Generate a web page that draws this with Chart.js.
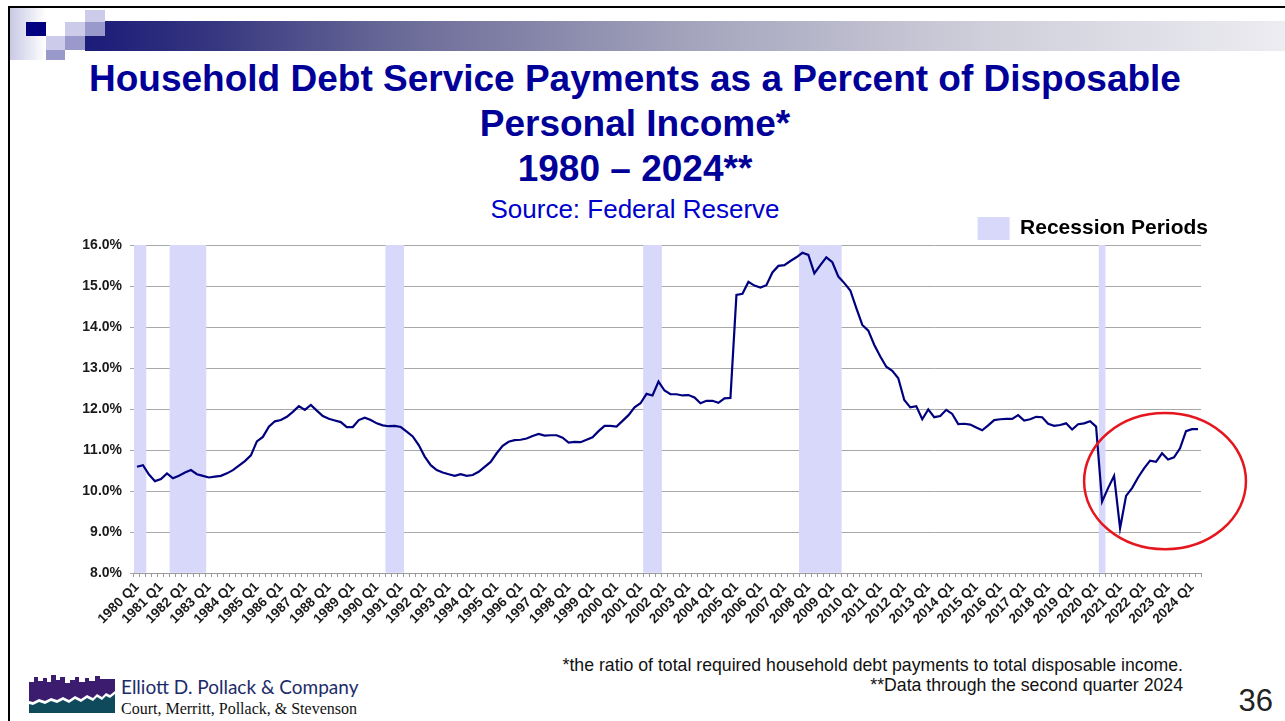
<!DOCTYPE html>
<html>
<head>
<meta charset="utf-8">
<title>Household Debt Service Payments</title>
<script src="https://cdn.jsdelivr.net/npm/chart.js@4.4.1/dist/chart.umd.min.js"></script>
<style>
  html, body { margin: 0; padding: 0; background: #fff; }
  body { width: 1285px; height: 721px; position: relative; overflow: hidden;
         font-family: "Liberation Sans", Arial, sans-serif; }
  .frame-top  { position: absolute; left: 8px; top: 6px; width: 1277px; height: 2px; background: #000; }
  .frame-left { position: absolute; left: 8px; top: 6px; width: 2px; height: 715px; background: #000; }
  .fade { position: absolute; left: 10px; top: 8px; width: 36px; height: 52px;
          background: linear-gradient(90deg, #c9c9e5, #ffffff); }
  .band { position: absolute; left: 85px; top: 21px; width: 1200px; height: 30px;
          background: linear-gradient(90deg, #1b1b79 0%, #34347f 10%, #6a6a98 26%, #a3a3bc 50%, #cfcfdb 75%, #ececf1 100%); }
  .sq { position: absolute; }
  .title { position: absolute; left: 0; width: 1270px; top: 56px; text-align: center;
           font-weight: bold; font-size: 37px; line-height: 45px; color: #000099; }
  .source { position: absolute; left: 0; width: 1270px; top: 196px; text-align: center;
            font-size: 26px; line-height: 26px; color: #0000cc; }
  .notes { position: absolute; right: 102px; top: 655px; text-align: right;
           font-size: 17.7px; line-height: 20px; color: #111; }
  .page { position: absolute; right: 12px; top: 683px; font-size: 31px; line-height: 36px; color: #222; }
  .logo { position: absolute; left: 29px; top: 675px; }
  .firm { position: absolute; left: 121px; top: 676px; font-family: Lato, "Open Sans", sans-serif;
          font-size: 19px; line-height: 22px; color: #1d2b6b; white-space: nowrap; }
  .partners { position: absolute; left: 121px; top: 700px; font-family: "Liberation Serif", "Times New Roman", serif;
              font-size: 16px; line-height: 18px; color: #111; white-space: nowrap; }
  #chart { position: absolute; left: 0; top: 214px; }
</style>
</head>
<body>
<div class="frame-top"></div>
<div class="frame-left"></div>
<div class="fade"></div>
<div class="band"></div>
<div class="sq" style="left:26px;top:22px;width:20px;height:14px;background:#000080"></div>
<div class="sq" style="left:65px;top:22px;width:20px;height:14px;background:#ccccea"></div>
<div class="sq" style="left:85px;top:10px;width:20px;height:12px;background:#ccccea"></div>
<div class="sq" style="left:85px;top:22px;width:20px;height:14px;background:#9999cc"></div>
<div class="sq" style="left:46px;top:36px;width:19px;height:14px;background:#ccccea"></div>
<div class="sq" style="left:65px;top:36px;width:20px;height:14px;background:#9999cc"></div>
<div class="sq" style="left:46px;top:50px;width:19px;height:10px;background:#9999cc"></div>

<div class="title">Household Debt Service Payments as a Percent of Disposable<br>Personal Income*<br>1980 – 2024**</div>
<div class="source">Source: Federal Reserve</div>

<canvas id="chart" width="1285" height="429"></canvas>

<div class="notes">*the ratio of total required household debt payments to total disposable income.<br>**Data through the second quarter 2024</div>
<div class="page">36</div>

<svg class="logo" width="88" height="40" viewBox="0 0 88 40">
  <polygon fill="#3b1c6e" points="0,7 5,7 5,2 9,2 9,6 14,6 14,3 18,3 18,7 22,7 22,0 27,0 27,5 31,5 31,2 36,2 36,8 41,8 41,5 46,5 46,2 50,2 50,7 56,7 56,3 60,3 60,6 66,6 66,1 71,1 71,4 86,4 86,16 81,20 77,18 73,22 68,19 64,23 58,20 52,24 46,21 40,25 34,22 28,25 22,23 16,26 10,24 4,27 0,26"/>
  <polygon fill="#0f4a5c" points="0,29 4,30 10,27 16,29 22,26 28,28 34,25 40,28 46,24 52,27 58,23 64,26 68,22 73,25 77,21 81,23 86,19 86,38 0,38"/>
</svg>
<div class="firm">Elliott D. Pollack &amp; Company</div>
<div class="partners">Court, Merritt, Pollack, &amp; Stevenson</div>

<script>
// Quarterly categories, 1980 Q1 through 2024 Q2
const firstYear = 1980;
const lastYear = 2024;
const lastQuarterOfFinalYear = 2;
const quarterNames = ['Q1', 'Q2', 'Q3', 'Q4'];
const quarters = [];
for (let y = firstYear; y <= lastYear; y++) {
  const n = y === lastYear ? lastQuarterOfFinalYear : 4;
  for (let q = 0; q < n; q++) quarters.push(y + ' ' + quarterNames[q]);
}

// Household debt service payments, % of disposable personal income (one row per year)
const debtServiceRatio = [
  10.59, 10.63, 10.40, 10.24,   // 1980
  10.29, 10.43, 10.31, 10.37,   // 1981
  10.45, 10.51, 10.41, 10.37,   // 1982
  10.33, 10.35, 10.37, 10.43,   // 1983
  10.51, 10.62, 10.73, 10.87,   // 1984
  11.21, 11.32, 11.57, 11.70,   // 1985
  11.73, 11.81, 11.93, 12.07,   // 1986
  11.98, 12.10, 11.96, 11.83,   // 1987
  11.76, 11.72, 11.68, 11.56,   // 1988
  11.56, 11.73, 11.79, 11.73,   // 1989
  11.65, 11.60, 11.58, 11.59,   // 1990
  11.56, 11.45, 11.33, 11.12,   // 1991
  10.84, 10.63, 10.51, 10.45,   // 1992
  10.41, 10.37, 10.41, 10.37,   // 1993
  10.39, 10.47, 10.59, 10.71,   // 1994
  10.92, 11.10, 11.20, 11.24,   // 1995
  11.25, 11.28, 11.34, 11.39,   // 1996
  11.35, 11.36, 11.36, 11.30,   // 1997
  11.18, 11.20, 11.19, 11.25,   // 1998
  11.31, 11.46, 11.59, 11.59,   // 1999
  11.57, 11.71, 11.85, 12.04,   // 2000
  12.14, 12.37, 12.33, 12.67,   // 2001
  12.45, 12.36, 12.36, 12.33,   // 2002
  12.34, 12.28, 12.14, 12.20,   // 2003
  12.20, 12.15, 12.26, 12.27,   // 2004
  14.78, 14.81, 15.10, 15.01,   // 2005
  14.96, 15.02, 15.33, 15.49,   // 2006
  15.51, 15.61, 15.70, 15.81,   // 2007
  15.76, 15.31, 15.51, 15.70,   // 2008
  15.58, 15.23, 15.07, 14.89,   // 2009
  14.46, 14.05, 13.91, 13.56,   // 2010
  13.28, 13.03, 12.93, 12.75,   // 2011
  12.22, 12.04, 12.07, 11.75,   // 2012
  11.99, 11.80, 11.83, 11.98,   // 2013
  11.88, 11.63, 11.64, 11.62,   // 2014
  11.55, 11.48, 11.60, 11.73,   // 2015
  11.75, 11.76, 11.76, 11.85,   // 2016
  11.72, 11.75, 11.81, 11.80,   // 2017
  11.64, 11.59, 11.61, 11.65,   // 2018
  11.50, 11.63, 11.65, 11.70,   // 2019
  11.57,  9.74, 10.07, 10.37,   // 2020
   9.09,  9.88, 10.07, 10.33,   // 2021
  10.55, 10.74, 10.71, 10.92,   // 2022
  10.77, 10.82, 11.04, 11.46,   // 2023
  11.51, 11.51                  // 2024
];

// Recession periods as first and last shaded quarter
const recessions = [
  ['1980 Q1', '1980 Q2'],
  ['1981 Q3', '1982 Q4'],
  ['1990 Q3', '1991 Q1'],
  ['2001 Q2', '2001 Q4'],
  ['2007 Q4', '2009 Q2'],
  ['2020 Q2', '2020 Q2']
];

// Value axis range and tick step (percent)
const axisMin = 8;
const axisMax = 16;
const axisStep = 1;

// Shaded columns: full-height bars over each recession quarter
const recessionBars = quarters.map(() => null);
recessions.forEach(([from, to]) => {
  const a = quarters.indexOf(from), b = quarters.indexOf(to);
  for (let i = a; i <= b; i++) recessionBars[i] = axisMax;
});

// Red ring around the post-2020 swing (category index, percent level, half sizes)
const ringCenterIndex = 171.5;
const ringCenterLevel = 10.24;
const ringHalfQuarters = 13.5;
const ringHalfPercent = 1.66;

const ringPlugin = {
  id: 'ring',
  afterDatasetsDraw(chart) {
    const { ctx, scales: { x, y } } = chart;
    const step = x.getPixelForValue(1) - x.getPixelForValue(0);
    const cx = x.getPixelForValue(ringCenterIndex);
    const cy = y.getPixelForValue(ringCenterLevel);
    const rx = ringHalfQuarters * step;
    const ry = Math.abs(y.getPixelForValue(ringCenterLevel + ringHalfPercent) - cy);
    ctx.save();
    ctx.beginPath();
    ctx.ellipse(cx, cy, rx, ry, 0, 0, Math.PI * 2);
    ctx.strokeStyle = '#e5161d';
    ctx.lineWidth = 2.5;
    ctx.stroke();
    ctx.restore();
  }
};

Chart.defaults.font.family = '"Liberation Sans", Arial, sans-serif';
Chart.defaults.color = '#1a1a1a';

new Chart(document.getElementById('chart'), {
  data: {
    labels: quarters,
    datasets: [
      {
        type: 'line',
        label: 'Debt service ratio',
        data: debtServiceRatio,
        borderColor: '#00007f',
        borderWidth: 2.2,
        pointRadius: 0,
        tension: 0,
        order: 1
      },
      {
        type: 'bar',
        label: 'Recession Periods',
        data: recessionBars,
        base: axisMin,
        backgroundColor: '#d8d8fb',
        borderWidth: 0,
        barPercentage: 1,
        categoryPercentage: 1,
        order: 2
      }
    ]
  },
  options: {
    responsive: false,
    animation: false,
    events: [],
    layout: { padding: { top: 3, left: 74, right: 77, bottom: 0 } },
    plugins: {
      tooltip: { enabled: false },
      legend: {
        position: 'top',
        align: 'end',
        maxHeight: 28,
        labels: {
          filter: (item) => item.datasetIndex === 1,
          boxWidth: 32,
          boxHeight: 23,
          padding: 0,
          color: '#000',
          font: { size: 21, weight: 'bold' }
        }
      }
    },
    scales: {
      x: {
        offset: true,
        grid: { display: true, drawOnChartArea: false, drawTicks: true, tickLength: 4, color: '#9a9a9a', offset: true },
        border: { display: true, color: '#9a9a9a' },
        ticks: {
          autoSkip: false,
          minRotation: 45,
          maxRotation: 45,
          padding: 2,
          font: { size: 13.5, weight: 'bold' },
          color: '#1a1a1a',
          callback: function (value, index) {
            return index % 4 === 0 ? this.getLabelForValue(value) : '';
          }
        },
        afterFit: (scale) => { scale.height = 70; }
      },
      y: {
        min: axisMin,
        max: axisMax,
        grid: { color: '#a8a8a8', tickLength: 4 },
        border: { display: true, color: '#9a9a9a' },
        ticks: {
          stepSize: axisStep,
          padding: 8,
          font: { size: 14, weight: 'bold' },
          color: '#1a1a1a',
          callback: (v) => v.toFixed(1) + '%'
        },
        afterFit: (scale) => { scale.width = 60; }
      },
      // narrow empty margin to the right of the plot
      gutter: {
        type: 'linear',
        position: 'right',
        display: true,
        grid: { display: false },
        border: { display: false },
        ticks: { display: false },
        afterFit: (scale) => { scale.width = 7; }
      }
    }
  },
  plugins: [ringPlugin]
});
</script>
</body>
</html>
